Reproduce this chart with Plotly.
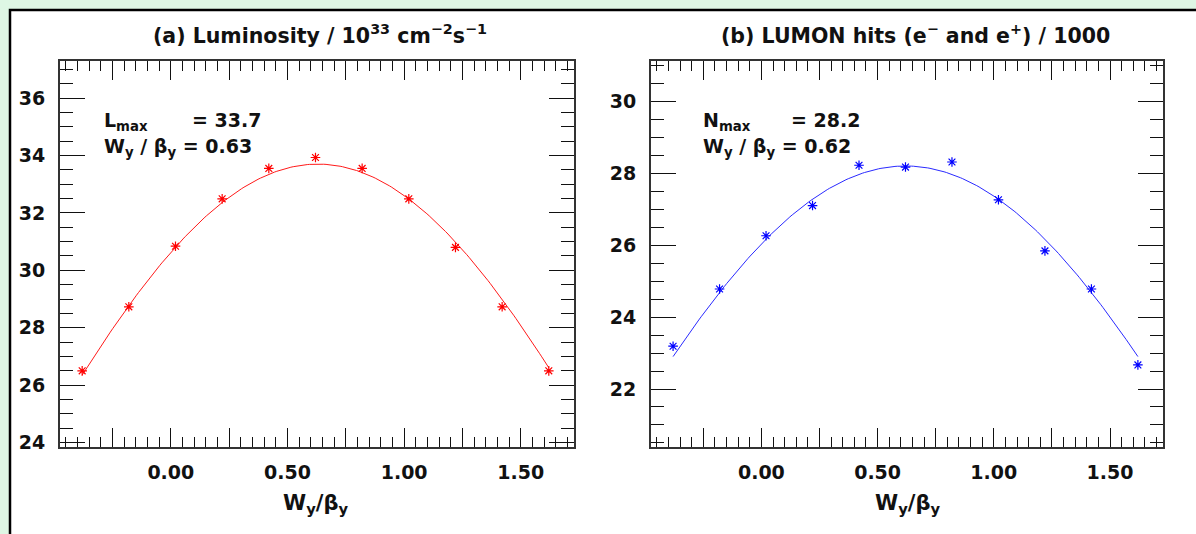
import numpy as np
import plotly.graph_objects as go

# ---- data -------------------------------------------------------------
wy_beta = [-0.38, -0.18, 0.02, 0.22, 0.42, 0.62, 0.82, 1.02, 1.22, 1.42, 1.62]
luminosity = [26.5, 28.73, 30.84, 32.49, 33.55, 33.93, 33.55, 32.49, 30.8, 28.73, 26.5]
lumon_hits = [23.19, 24.78, 26.26, 27.10, 28.22, 28.17, 28.31, 27.26, 25.84, 24.78, 22.67]

# fitted peak parameters (shown in the panel text)
lum_peak, lum_center, lum_width = 33.7, 0.63, 1.44
hits_peak, hits_center, hits_width = 28.2, 0.62, 1.55

x_ticks = [-0.25, 0.0, 0.25, 0.5, 0.75, 1.0, 1.25, 1.5]
x_tick_text = ["", "0.00", "", "0.50", "", "1.00", "", "1.50"]

W, H = 1196, 534
FONT = "DejaVu Sans"
INK = "#111111"


def px(x, y):
    return x / W, 1 - y / H


def fit_curve(peak, center, width):
    xs = np.linspace(min(wy_beta), max(wy_beta), 200)
    return xs, peak * np.exp(-((xs - center) ** 2) / (2 * width ** 2))


fig = go.Figure()

# panel (a): luminosity
cx, cy = fit_curve(lum_peak, lum_center, lum_width)
fig.add_trace(go.Scatter(x=cx, y=cy, mode="lines", line=dict(color="#ff1a1a", width=1),
                         xaxis="x", yaxis="y", hoverinfo="skip"))
fig.add_trace(go.Scatter(x=wy_beta, y=luminosity, mode="markers",
                         marker=dict(symbol="asterisk-open", size=8, color="#ff0000",
                                     line=dict(color="#ff0000", width=1.2)),
                         xaxis="x", yaxis="y"))

# panel (b): LUMON hits
cx, cy = fit_curve(hits_peak, hits_center, hits_width)
fig.add_trace(go.Scatter(x=cx, y=cy, mode="lines", line=dict(color="#2a2aff", width=1),
                         xaxis="x2", yaxis="y2", hoverinfo="skip"))
fig.add_trace(go.Scatter(x=wy_beta, y=lumon_hits, mode="markers",
                         marker=dict(symbol="asterisk-open", size=8, color="#0000ff",
                                     line=dict(color="#0000ff", width=1.2)),
                         xaxis="x2", yaxis="y2"))

tick_font = dict(family=FONT, size=19, color=INK, weight="bold")

common_x = dict(range=[-0.475, 1.728], tickmode="array", tickvals=x_ticks, ticktext=x_tick_text,
                ticks="inside", ticklen=19, tickwidth=1.3, tickcolor=INK,
                minor=dict(ticks="inside", dtick=0.05, tick0=0, ticklen=10, tickwidth=1.3, tickcolor=INK),
                showline=True, linewidth=2, linecolor="#333333", mirror="ticks",
                showgrid=False, zeroline=False, tickfont=tick_font, ticklabelstandoff=7)
common_y = dict(ticks="inside", dtick=2, ticklen=25, tickwidth=1.3, tickcolor=INK,
                minor=dict(ticks="inside", dtick=0.5, ticklen=13, tickwidth=1.3, tickcolor=INK),
                showline=True, linewidth=2, linecolor="#333333", mirror="ticks",
                showgrid=False, zeroline=False, tickfont=tick_font, ticklabelstandoff=9)

y_dom = [1 - 452 / H, 1 - 62 / H]
fig.update_layout(
    width=W, height=H, margin=dict(l=0, r=0, t=0, b=0),
    paper_bgcolor="#def7e4", plot_bgcolor="white", showlegend=False,
    xaxis=dict(domain=[60 / W, 574 / W], anchor="y", **common_x),
    yaxis=dict(domain=y_dom, anchor="x", range=[23.85, 37.28], **common_y),
    xaxis2=dict(domain=[651 / W, 1163 / W], anchor="y2", **common_x),
    yaxis2=dict(domain=y_dom, anchor="x2", range=[20.39, 31.11], **common_y),
)

# white framed panel behind both plots
fig.add_shape(type="rect", xref="paper", yref="paper", x0=10 / W, y0=-0.05, x1=1.05, y1=1 - 10 / H,
              line=dict(color="black", width=2.5), fillcolor="white", layer="below")

big = dict(family=FONT, size=20.5, color=INK, weight="bold")
txt = dict(family=FONT, size=19, color=INK, weight="bold")
axt = dict(family=FONT, size=21, color=INK, weight="bold")


def note(text, x, y, font, xanchor="center"):
    fx, fy = px(x, y)
    fig.add_annotation(text=text, x=fx, y=fy, xref="paper", yref="paper", showarrow=False,
                       xanchor=xanchor, yanchor="middle", font=font)


note("(a) Luminosity / 10<sup>33</sup> cm<sup>\u22122</sup>s<sup>\u22121</sup>", 320, 35, big)
note("(b) LUMON hits (e<sup>\u2212</sup> and e<sup>+</sup>) / 1000", 915, 35, big)

note("L<sub>max</sub>", 102, 123, txt, "left")
note(f"= {lum_peak}", 190, 121, txt, "left")
note(f"W<sub>y</sub> / \u03b2<sub>y</sub> = {lum_center:.2f}", 102, 149, txt, "left")

note("N<sub>max</sub>", 701, 123, txt, "left")
note(f"= {hits_peak}", 789, 121, txt, "left")
note(f"W<sub>y</sub> / \u03b2<sub>y</sub> = {hits_center:.2f}", 701, 149, txt, "left")

note("W<sub>y</sub>/\u03b2<sub>y</sub>", 315, 510, axt)
note("W<sub>y</sub>/\u03b2<sub>y</sub>", 907, 510, axt)

fig.write_html("out.html")
